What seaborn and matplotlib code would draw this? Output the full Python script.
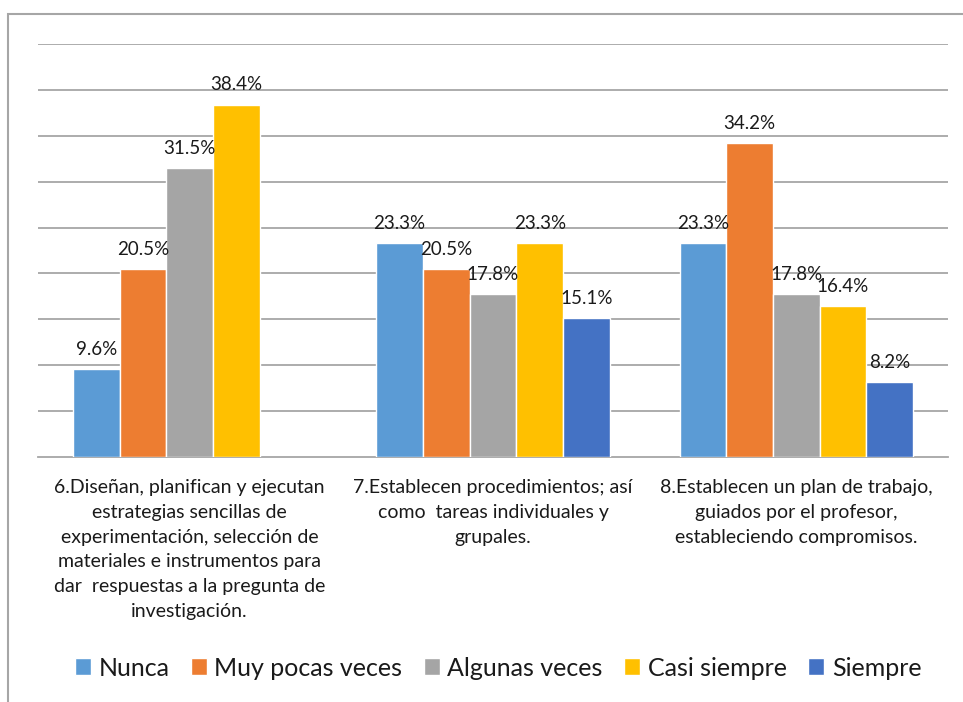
import numpy as np
import pandas as pd
import seaborn as sns
import matplotlib.pyplot as plt
from matplotlib.patches import Rectangle

categories = [
    "6.Diseñan, planifican y ejecutan\nestrategias sencillas de\nexperimentación, selección de\nmateriales e instrumentos para\ndar  respuestas a la pregunta de\ninvestigación.",
    "7.Establecen procedimientos; así\ncomo  tareas individuales y\ngrupales.",
    "8.Establecen un plan de trabajo,\nguiados por el profesor,\nestableciendo compromisos.",
]
series = ["Nunca", "Muy pocas veces", "Algunas veces", "Casi siempre", "Siempre"]
nunca = [9.6, 23.3, 23.3]
muy_pocas = [20.5, 20.5, 34.2]
algunas = [31.5, 17.8, 17.8]
casi_siempre = [38.4, 23.3, 16.4]
siempre = [np.nan, 15.1, 8.2]
colors = ["#5B9BD5", "#ED7D31", "#A5A5A5", "#FFC000", "#4472C4"]

sns.set_style("white")
plt.rcParams['font.family'] = ['Lato', 'DejaVu Sans']

rows = []
for name, vals in zip(series, [nunca, muy_pocas, algunas, casi_siempre, siempre]):
    for cat, v in zip(categories, vals):
        rows.append({"cat": cat, "serie": name, "val": v})
df = pd.DataFrame(rows)

fig = plt.figure(figsize=(9.63, 7.02), dpi=100)
ax = fig.add_axes([38 / 963, 1 - 457 / 702, 910 / 963, 413 / 702])

sns.barplot(data=df, x="cat", y="val", hue="serie", order=categories,
            hue_order=series, palette=colors, width=0.77, saturation=1,
            ax=ax, zorder=3, legend=True)

for cont in ax.containers:
    labels = ["" if np.isnan(b.get_height()) else f"{b.get_height():.1f}%" for b in cont]
    ax.bar_label(cont, labels=labels, padding=8, fontsize=13.5, color="#1A1A1A")

ax.set_ylim(0, 45)
ax.set_xlim(-0.5, 2.5)
ax.set_yticks(np.arange(5, 46, 5))
ax.yaxis.grid(True, color="#A6A6A6", linewidth=1.3, zorder=0)
ax.set_axisbelow(True)
ax.tick_params(axis="y", left=False, labelleft=False)
ax.set_xlabel("")
ax.set_ylabel("")
ax.set_xticks(range(3))
ax.set_xticklabels(categories, fontsize=14, color="#1A1A1A", linespacing=1.55,
                   va="top", ha="center")
ax.tick_params(axis="x", which="major", length=0, pad=16)
ax.set_xticks([-0.5, 0.5, 1.5, 2.5], minor=True)
ax.tick_params(axis="x", which="minor", length=6, color="#A6A6A6", width=1.3)
for s in ["top", "right", "left"]:
    ax.spines[s].set_visible(False)
ax.spines["bottom"].set_color("#A6A6A6")
ax.spines["bottom"].set_linewidth(1.3)

handles, labels = ax.get_legend_handles_labels()
ax.legend_.remove()
fig.legend(handles, labels, loc="center", bbox_to_anchor=(498 / 963, 1 - 668 / 702),
           ncol=5, frameon=False, fontsize=18, handlelength=0.65, handleheight=0.65,
           handletextpad=0.3, columnspacing=0.85, labelcolor="#1A1A1A")

fig.patches.append(Rectangle((8 / 963, -0.1), 2, 1.1 - 14 / 702, transform=fig.transFigure,
                             fill=False, edgecolor="#A6A6A6", linewidth=1.5))

fig.savefig("out.png", dpi=100)
